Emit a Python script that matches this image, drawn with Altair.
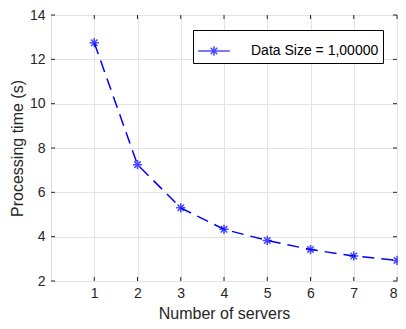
import altair as alt
import pandas as pd

servers = [1, 2, 3, 4, 5, 6, 7, 8]
times = [12.75, 7.25, 5.3, 4.33, 3.83, 3.42, 3.13, 2.93]
series_name = "Data Size = 1,00000"
x_ticks = [1, 2, 3, 4, 5, 6, 7, 8]
y_ticks = [2, 4, 6, 8, 10, 12, 14]

df = pd.DataFrame({"servers": servers, "time": times, "series": series_name})
xt = pd.DataFrame({"v": x_ticks})
yt = pd.DataFrame({"v": y_ticks})

W, H = 346, 266
BLUE = "#0000ff"
DARK = "#262626"
STAR = "M0,-1V1M-1,0H1M-0.7,-0.7L0.7,0.7M-0.7,0.7L0.7,-0.7"
LEG = "M-1,0H1M0,-0.3V0.3M-0.3,0H0.3M-0.21,-0.21L0.21,0.21M-0.21,0.21L0.21,-0.21"

xs = alt.Scale(domain=[0, 8], nice=False, zero=False)
ys = alt.Scale(domain=[2, 14], nice=False, zero=False)

color = alt.Color(
    "series:N",
    scale=alt.Scale(range=[BLUE]),
    legend=alt.Legend(
        title=None, orient="none", legendX=142, legendY=15,
        symbolType=LEG, symbolSize=1000, symbolStrokeWidth=1.5,
        symbolStrokeColor=BLUE, symbolFillColor="transparent",
        labelFontSize=14, labelFont="Liberation Sans", labelColor="black",
        strokeColor="black", fillColor="white", padding=4,
        labelOffset=20, offset=0, symbolOffset=0,
        cornerRadius=0,
    ),
)

line = alt.Chart(df).mark_line(strokeDash=[12, 7], strokeWidth=1.5, color=BLUE).encode(
    x=alt.X("servers:Q", scale=xs, axis=alt.Axis(
        values=x_ticks, title="Number of servers", grid=True, gridColor="#e3e3e3",
        tickSize=0, domain=False, labelFontSize=14, labelColor=DARK,
        labelFont="Liberation Sans", titleFont="Liberation Sans", titleFontSize=16,
        titleFontWeight="normal", titleColor=DARK, labelPadding=5, titlePadding=5)),
    y=alt.Y("time:Q", scale=ys, axis=alt.Axis(
        values=y_ticks, title="Processing time (s)", grid=True, gridColor="#e3e3e3",
        tickSize=0, domain=False, labelFontSize=14, labelColor=DARK,
        labelFont="Liberation Sans", titleFont="Liberation Sans", titleFontSize=16,
        titleFontWeight="normal", titleColor=DARK, labelPadding=6, titlePadding=4)),
)

points = alt.Chart(df).mark_point(shape=STAR, size=85, filled=False, strokeWidth=1.5).encode(
    x=alt.X("servers:Q", scale=xs),
    y=alt.Y("time:Q", scale=ys),
    color=color,
)

tb = alt.Chart(xt).mark_rule(color=DARK, strokeWidth=1).encode(
    x=alt.X("v:Q", scale=xs), y=alt.value(H), y2=alt.value(H - 4))
tt = alt.Chart(xt).mark_rule(color=DARK, strokeWidth=1).encode(
    x=alt.X("v:Q", scale=xs), y=alt.value(0), y2=alt.value(4))
tl = alt.Chart(yt).mark_rule(color=DARK, strokeWidth=1).encode(
    y=alt.Y("v:Q", scale=ys), x=alt.value(0), x2=alt.value(4))
tr = alt.Chart(yt).mark_rule(color=DARK, strokeWidth=1).encode(
    y=alt.Y("v:Q", scale=ys), x=alt.value(W), x2=alt.value(W - 4))

chart = alt.layer(line, points, tb, tt, tl, tr).properties(
    width=W, height=H,
    autosize=alt.AutoSizeParams(type="none"),
    padding={"left": 43, "top": 7, "right": 1, "bottom": 40},
).configure_view(stroke=DARK, strokeWidth=1).configure(background="white")

chart.save("out.html", embed_options={"renderer": "svg", "actions": False})
